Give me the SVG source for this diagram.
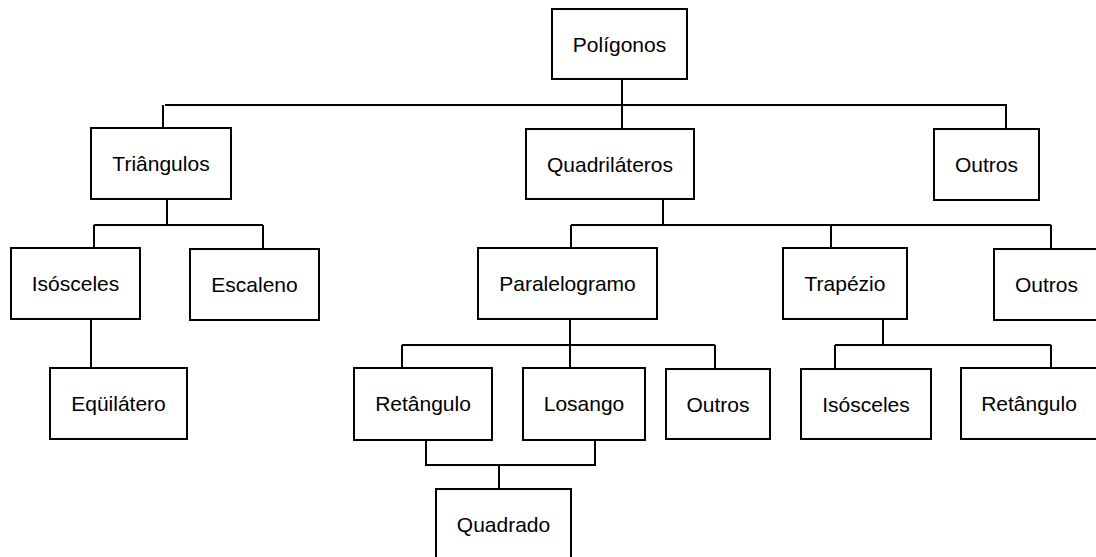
<svg xmlns="http://www.w3.org/2000/svg" width="1096" height="557" viewBox="0 0 1096 557">
<style>
.box{fill:#fff;stroke:#000;stroke-width:2}
.lbl{font-family:"Liberation Sans",Arial,sans-serif;font-size:21px;fill:#000;text-anchor:middle}
.con{fill:none;stroke:#000;stroke-width:2}
</style>
<rect width="1096" height="557" fill="#fff"/>
<g id="connectors" class="con">
<path d="M622,79V129"/>
<path d="M165,105H1007M163,105V128M1006,105V129"/>
<path d="M167,199V225M94,225H263M94,225V248M263,225V249"/>
<path d="M91,319V368"/>
<path d="M663,199V225M571,225H1051M571,225V248M831,225V248M1051,225V249"/>
<path d="M570,319V345M402,345H715M402,345V368M570,345V368M715,345V369"/>
<path d="M883,319V345M835,345H1051M835,345V369M1051,345V368"/>
<path d="M426,440V465H595V440M499,465V489"/>
</g>
<g id="poligonos"><rect class="box" x="552" y="9" width="135" height="70"/><text class="lbl" x="619.5" y="52">Polígonos</text></g>
<g id="triangulos"><rect class="box" x="91" y="128" width="140" height="71"/><text class="lbl" x="161" y="171">Triângulos</text></g>
<g id="quadrilateros"><rect class="box" x="526" y="129" width="168" height="70"/><text class="lbl" x="610" y="172">Quadriláteros</text></g>
<g id="outros1"><rect class="box" x="934" y="129" width="105" height="71"/><text class="lbl" x="986.5" y="172">Outros</text></g>
<g id="isosceles1"><rect class="box" x="11" y="248" width="129" height="71"/><text class="lbl" x="75.5" y="291">Isósceles</text></g>
<g id="escaleno"><rect class="box" x="190" y="249" width="129" height="71"/><text class="lbl" x="254.5" y="292">Escaleno</text></g>
<g id="equilatero"><rect class="box" x="50" y="368" width="137" height="71"/><text class="lbl" x="118.5" y="411">Eqüilátero</text></g>
<g id="paralelogramo"><rect class="box" x="478" y="248" width="179" height="71"/><text class="lbl" x="567.5" y="291">Paralelogramo</text></g>
<g id="trapezio"><rect class="box" x="783" y="248" width="124" height="71"/><text class="lbl" x="845" y="291">Trapézio</text></g>
<g id="outros2"><rect class="box" x="994" y="249" width="105" height="71"/><text class="lbl" x="1046.5" y="292">Outros</text></g>
<g id="retangulo1"><rect class="box" x="354" y="368" width="138" height="72"/><text class="lbl" x="423" y="411">Retângulo</text></g>
<g id="losango"><rect class="box" x="523" y="368" width="122" height="72"/><text class="lbl" x="584" y="411">Losango</text></g>
<g id="outros3"><rect class="box" x="666" y="369" width="104" height="70"/><text class="lbl" x="718" y="412">Outros</text></g>
<g id="isosceles2"><rect class="box" x="801" y="369" width="130" height="70"/><text class="lbl" x="866" y="412">Isósceles</text></g>
<g id="retangulo2"><rect class="box" x="961" y="368" width="136" height="71"/><text class="lbl" x="1029" y="411">Retângulo</text></g>
<g id="quadrado"><rect class="box" x="436" y="489" width="135" height="71"/><text class="lbl" x="503.5" y="532">Quadrado</text></g>
</svg>
